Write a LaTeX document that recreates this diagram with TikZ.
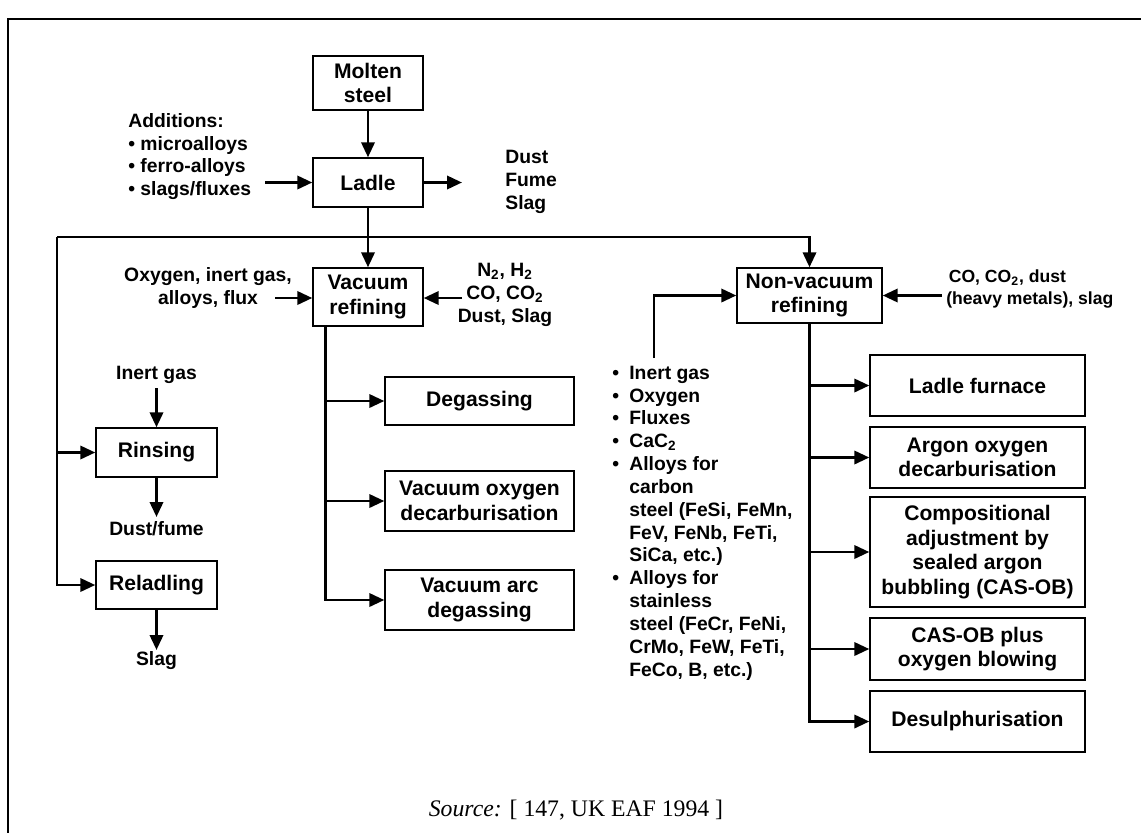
\documentclass[tikz,border=0pt]{standalone}
\usepackage{fontspec}
\setmainfont{Liberation Sans}
\newfontfamily\srcfont{Liberation Serif}
\usetikzlibrary{arrows.meta}
\newcommand\boxtxt{\fontsize{12}{14}\selectfont\bfseries}
\newcommand\sidetxt{\fontsize{11}{13}\selectfont\bfseries}
\newcommand\itm{\makebox[0.34cm][l]{\textbullet}}
\newcommand\cnt{\hspace*{0.34cm}}
\begin{document}
\begin{tikzpicture}[x=0.02cm,y=-0.02cm,
    stage/.style={draw,line width=0.8pt,align=center,inner sep=0pt,font=\boxtxt},
    side/.style={align=center,inner sep=0pt,font=\sidetxt},
    pipe/.style={line width=1.6pt},
    flow/.style={pipe,-{Triangle[length=8.5pt,width=7.5pt]}}]
  \useasboundingbox (0,0) rectangle (1141,832);
  \draw[line width=1.1pt] (8,900) -- (8,19) -- (1200,19);

  \node[stage,minimum width=2.2cm,minimum height=1.08cm] (molten) at (368,83) {Molten\\steel};
  \node[stage,minimum width=2.2cm,minimum height=0.98cm] (ladle) at (368,182.5) {Ladle};
  \node[stage,minimum width=2.2cm,minimum height=1.16cm] (vacref) at (368,297) {Vacuum\\refining};
  \node[stage,minimum width=2.9cm,minimum height=1.1cm] (nonvac) at (809.5,295.5) {Non-vacuum\\refining};

  \node[stage,minimum width=2.42cm,minimum height=0.98cm] (rinse) at (156.5,452.5) {Rinsing};
  \node[stage,minimum width=2.42cm,minimum height=0.96cm] (reladle) at (156.5,585) {Reladling};

  \node[stage,minimum width=3.78cm,minimum height=0.96cm] (degas) at (479.5,401) {Degassing};
  \node[stage,minimum width=3.78cm,minimum height=1.2cm] (vod) at (479.5,501) {Vacuum oxygen\\decarburisation};
  \node[stage,minimum width=3.78cm,minimum height=1.2cm] (vad) at (479.5,600) {Vacuum arc\\degassing};

  \node[stage,minimum width=4.3cm,minimum height=1.22cm] (lf) at (977.5,385.5) {Ladle furnace};
  \node[stage,minimum width=4.3cm,minimum height=1.22cm] (aod) at (977.5,457.5) {Argon oxygen\\decarburisation};
  \node[stage,minimum width=4.3cm,minimum height=2.2cm] (cas) at (977.5,552) {Compositional\\adjustment by\\sealed argon\\bubbling (CAS-OB)};
  \node[stage,minimum width=4.3cm,minimum height=1.24cm] (casob) at (977.5,649) {CAS-OB plus\\oxygen blowing};
  \node[stage,minimum width=4.3cm,minimum height=1.22cm] (desul) at (977.5,721.5) {Desulphurisation};

  \node[side,align=left,anchor=west] (adds) at (128,156.5)
    {Additions:\\\textbullet{} microalloys\\\textbullet{} ferro-alloys\\\textbullet{} slags/fluxes};
  \node[side,align=left,anchor=west] (ladleout) at (505,182) {Dust\\Fume\\Slag};
  \node[side] (vacin) at (208,288) {Oxygen, inert gas,\\alloys, flux};
  \node[side] (vacout) at (505,295) {N\textsubscript{2}, H\textsubscript{2}\\CO, CO\textsubscript{2}\\Dust, Slag};
  \node[side,align=left,anchor=west,font=\fontsize{10}{12.5}\selectfont\bfseries] (nvout) at (946,289)
    {\hspace*{0.05cm}CO, CO\textsubscript{2}, dust\\(heavy metals), slag};
  \node[side] (rinsein) at (156.5,375) {Inert gas};
  \node[side] (rinseout) at (156.5,529) {Dust/fume};
  \node[side] (reladleout) at (156.5,661) {Slag};
  \node[side,align=left,anchor=west] (nvadds) at (612,523)
    {\itm Inert gas\\\itm Oxygen\\\itm Fluxes\\\itm CaC\textsubscript{2}\\
     \itm Alloys for\\\cnt carbon\\\cnt steel (FeSi, FeMn,\\\cnt FeV, FeNb, FeTi,\\\cnt SiCa, etc.)\\
     \itm Alloys for\\\cnt stainless\\\cnt steel (FeCr, FeNi,\\\cnt CrMo, FeW, FeTi,\\\cnt FeCo, B, etc.)};

  \coordinate (addsend) at (265,182.5);
  \coordinate (ladleend) at (462,182.5);
  \coordinate (vacinend) at (275,298);
  \coordinate (vacoutend) at (462,298);
  \coordinate (nvoutend) at (942,295.5);
  \coordinate (nvaddsend) at (654,358);
  \coordinate (trunk) at (57,237);
  \coordinate (rinsetop) at (156.5,388);
  \coordinate (rinsebot) at (156.5,517);
  \coordinate (reladlebot) at (156.5,650);
  \path (vacref.south west) ++(13,0) coordinate (vactap);

  \draw[flow] (molten) -- (ladle);
  \draw[flow] (addsend) -- (ladle);
  \draw[flow] (ladle) -- (ladleend);
  \draw[flow] (ladle) -- (vacref);
  \draw[flow] (trunk) -| (nonvac.north);
  \draw[flow] (trunk) |- (reladle.west);
  \draw[flow] (trunk |- rinse.west) -- (rinse.west);
  \draw[flow] (rinsetop) -- (rinse);
  \draw[flow] (rinse) -- (rinsebot);
  \draw[flow] (reladle) -- (reladlebot);
  \draw[flow] (vacinend) -- (vacinend -| vacref.west);
  \draw[flow] (vacoutend) -- (vacoutend -| vacref.east);
  \draw[flow] (nvoutend) -- (nonvac.east);
  \draw[flow] (nvaddsend) |- (nonvac.west);

  \draw[flow] (vactap) |- (vad.west);
  \draw[flow] (vactap |- degas.west) -- (degas.west);
  \draw[flow] (vactap |- vod.west) -- (vod.west);

  \draw[flow] (nonvac.south) |- (desul.west);
  \draw[flow] (nonvac.south |- lf.west) -- (lf.west);
  \draw[flow] (nonvac.south |- aod.west) -- (aod.west);
  \draw[flow] (nonvac.south |- cas.west) -- (cas.west);
  \draw[flow] (nonvac.south |- casob.west) -- (casob.west);

  \node[font=\srcfont\fontsize{13.5}{16}\selectfont] (src) at (576,810) {\textit{Source:} [ 147, UK EAF 1994 ]};
\end{tikzpicture}
\end{document}
